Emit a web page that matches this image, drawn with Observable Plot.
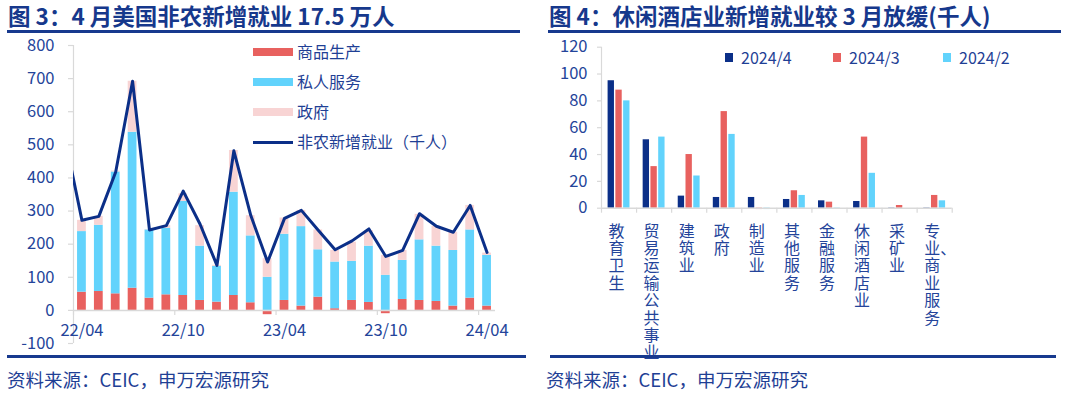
<!DOCTYPE html>
<html><head><meta charset="utf-8">
<script src="https://cdn.jsdelivr.net/npm/d3@7"></script>
<script src="https://cdn.jsdelivr.net/npm/@observablehq/plot@0.6"></script>
<style>
body{margin:0;width:1080px;height:399px;background:#fff;position:relative;overflow:hidden;font-family:"Noto Sans CJK SC","Noto Sans",sans-serif;}
.abs{position:absolute;}
.title{font-size:22.5px;font-weight:bold;color:#16388c;line-height:1;white-space:nowrap;}
.rule{height:3px;background:#17398e;}
.src{font-size:18.5px;color:#1f3f95;white-space:nowrap;line-height:1;}
.leg{font-size:16px;color:#1f3f95;white-space:nowrap;line-height:1;}
</style></head><body>
<div id="c1" class="abs" style="left:0;top:0"></div>
<div id="c2" class="abs" style="left:540px;top:0"></div>
<div class="abs title" style="left:8px;top:4px">图 3：4 月美国非农新增就业 17.5 万人</div>
<div class="abs title" style="left:549px;top:4px">图 4：休闲酒店业新增就业较 3 月放缓(千人)</div>
<div class="abs rule" style="left:7px;top:30px;width:513px"></div>
<div class="abs rule" style="left:548px;top:30px;width:513px"></div>
<div class="abs rule" style="left:7px;top:355px;width:519px"></div>
<div class="abs rule" style="left:550px;top:355px;width:506px"></div>
<div class="abs src" style="left:7px;top:370px">资料来源：CEIC，申万宏源研究</div>
<div class="abs src" style="left:546px;top:370px">资料来源：CEIC，申万宏源研究</div>
<div id="leg1"></div>
<div id="leg2"></div>
<script>
// ---------- Chart 3 data ----------
const months = ["22/04","22/05","22/06","22/07","22/08","22/09","22/10","22/11","22/12","23/01","23/02","23/03",
  "23/04","23/05","23/06","23/07","23/08","23/09","23/10","23/11","23/12","24/01","24/02","24/03","24/04"];
const goods      = [55, 57, 50, 67, 37, 47, 45, 30, 25, 45, 23, -13, 30, 13, 40, 5, 30, 24, -10, 33, 30, 27, 13, 37, 13];
const privateSvc = [183, 200, 368, 471, 206, 201, 284, 164, 108, 312, 202, 100, 200, 240, 143, 141, 118, 170, 106, 118, 183, 167, 168, 206, 153];
const government = [34, 27, 3, 154, 1, 8, 23, 62, 3, 126, 61, 56, 49, 49, 60, 35, 58, 47, 60, 30, 77, 60, 55, 74, 7];
const lineMonths = ["22/03", ...months];
const nfpValues  = [520, 272, 284, 418, 692, 243, 256, 360, 260, 136, 482, 287, 146, 278, 302, 242, 183, 210, 246, 163, 181, 292, 254, 236, 317, 175];
const xTickLabels = ["22/04","22/10","23/04","23/10","24/04"];
const yTicks1 = [-100, 0, 100, 200, 300, 400, 500, 600, 700, 800];
const seriesNames1 = ["商品生产","私人服务","政府","非农新增就业（千人）"];

// ---------- Chart 4 data ----------
const sectors = ["教育卫生","贸易运输公共事业","建筑业","政府","制造业","其他服务","金融服务","休闲酒店业","采矿业","专业、商业服务"];
const seriesNames2 = ["2024/4","2024/3","2024/2"];
const apr2024 = [95, 51, 9, 8, 8, 6.5, 5.5, 5, -0.5, -0.5];
const mar2024 = [88, 31, 40, 72, -1, 13, 4.5, 53, 2, 9.5];
const feb2024 = [80, 53, 24, 55, -1, 9.5, -0.7, 26, 0, 5.5];
const yTicks2 = [0, 20, 40, 60, 80, 100, 120];

// ---------- styles ----------
const RED = "#e8615f", CYAN = "#62d3fc", PINK = "#f8d4d4", NAVY = "#0b2f88", TXT = "#24449a", GRID = "#d9d9d9";
const FONT = '"Noto Sans CJK SC","Noto Sans",sans-serif';

// ===== Chart 3 =====
{
  const W = 535, H = 399, mL = 73, mR = 40, mT = 45, mB = 56;
  const xDom = [-0.5, months.length - 0.5], yDom = [-100, 800];
  const unitsPerPxY = (yDom[1] - yDom[0]) / (H - mT - mB);
  const unitsPerPxX = (xDom[1] - xDom[0]) / (W - mL - mR);
  const half = 0.26;
  const rects = [];
  const colors = [RED, CYAN, PINK];
  months.forEach((m, i) => {
    let pos = 0, neg = 0;
    [goods[i], privateSvc[i], government[i]].forEach((v, s) => {
      let y1, y2;
      if (v >= 0) { y1 = pos; y2 = pos + v; pos = y2; } else { y1 = neg; y2 = neg + v; neg = y2; }
      rects.push({x1: i - half, x2: i + half, y1, y2, fill: colors[s]});
    });
  });
  const linePts = lineMonths.map((m, k) => ({x: k - 1, y: nfpValues[k]}));
  const xt = xTickLabels.map(l => ({i: months.indexOf(l), l}));
  const plot = Plot.plot({
    width: W, height: H, marginLeft: mL, marginRight: mR, marginTop: mT, marginBottom: mB,
    style: {background: "transparent", fontFamily: FONT, overflow: "visible"},
    x: {domain: xDom, axis: null},
    y: {domain: yDom, axis: null},
    marks: [
      Plot.ruleX([xDom[0]], {y1: yDom[0], y2: yDom[1], stroke: GRID, strokeWidth: 1.2}),
      Plot.ruleY(yTicks1, {y: d => d, x1: xDom[0] - 5 * unitsPerPxX, x2: xDom[0], stroke: GRID, strokeWidth: 1.2}),
      Plot.text(yTicks1, {y: d => d, x: () => xDom[0], text: d => String(d), textAnchor: "end", dx: -19, fill: TXT, fontSize: 16.5}),
      Plot.rect(rects, {x1: "x1", x2: "x2", y1: "y1", y2: "y2", fill: "fill"}),
      Plot.ruleY([0], {x1: xDom[0], x2: xDom[1], stroke: GRID, strokeWidth: 1.5}),
      Plot.ruleX(xt, {x: d => d.i - 0.5, y1: 0, y2: -5 * unitsPerPxY, stroke: GRID, strokeWidth: 1.2}),
      Plot.text(xt, {x: d => d.i, y: () => 0, text: "l", dy: 20, fill: TXT, fontSize: 16.5}),
      Plot.line(linePts, {x: "x", y: "y", stroke: NAVY, strokeWidth: 3, clip: true})
    ]
  });
  document.getElementById("c1").append(plot);

  // legend
  const leg = document.getElementById("leg1");
  const rows = [52, 82, 112, 142];
  seriesNames1.forEach((name, k) => {
    const sw = document.createElement("div");
    sw.className = "abs";
    const isLine = k === 3;
    const h = isLine ? 3 : 8;
    sw.style.cssText = `left:253px;top:${rows[k] - h / 2}px;width:40px;height:${h}px;background:${[RED, CYAN, PINK, NAVY][k]}`;
    leg.append(sw);
    const t = document.createElement("div");
    t.className = "abs leg";
    t.style.cssText = `left:297px;top:${rows[k] - 9}px`;
    t.textContent = name;
    leg.append(t);
  });
}

// ===== Chart 4 =====
{
  const W = 540, H = 399, mL = 61, mR = 128.3, mT = 46.7, mB = 191.3;
  const xDom = [0, sectors.length], yDom = [0, 120];
  const unitsPerPxY = (yDom[1] - yDom[0]) / (H - mT - mB);
  const unitsPerPxX = (xDom[1] - xDom[0]) / (W - mL - mR);
  const step = 0.2213, hw = 0.0907;
  const cols = [NAVY, RED, CYAN];
  const vals = [apr2024, mar2024, feb2024];
  const bars = [];
  sectors.forEach((s, i) => {
    vals.forEach((arr, j) => {
      const c = i + 0.5 + (j - 1) * step;
      bars.push({x1: c - hw, x2: c + hw, v: arr[i], fill: cols[j]});
    });
  });
  // vertical (one character per line) category labels
  const labelRows = sectors.map((s, i) => {
    const parts = [];
    for (const ch of s) { if (ch === "、" && parts.length) parts[parts.length - 1] += ch; else parts.push(ch); }
    return {i, t: parts.join("\n")};
  });
  const bounds = d3.range(sectors.length + 1);
  const plot = Plot.plot({
    width: W, height: H, marginLeft: mL, marginRight: mR, marginTop: mT, marginBottom: mB,
    style: {background: "transparent", fontFamily: FONT, overflow: "visible"},
    x: {domain: xDom, axis: null},
    y: {domain: yDom, axis: null},
    marks: [
      Plot.ruleX([0], {y1: 0, y2: 120, stroke: GRID, strokeWidth: 1.2}),
      Plot.ruleY(yTicks2, {y: d => d, x1: -4 * unitsPerPxX, x2: 0, stroke: GRID, strokeWidth: 1.2}),
      Plot.text(yTicks2, {y: d => d, x: () => 0, text: d => String(d), textAnchor: "end", dx: -14, fill: TXT, fontSize: 16.5}),
      Plot.rect(bars, {x1: "x1", x2: "x2", y1: () => 0, y2: "v", fill: "fill"}),
      Plot.ruleY([0], {x1: 0, x2: sectors.length, stroke: GRID, strokeWidth: 1.5}),
      Plot.ruleX(bounds, {x: d => d, y1: 0, y2: -5 * unitsPerPxY, stroke: GRID, strokeWidth: 1.2}),
      Plot.text(labelRows, {x: d => d.i + 0.5, y: () => 0, text: "t", lineAnchor: "top", lineHeight: 1.0875,
        dy: 16, textAnchor: "start", dx: -10.5, fill: TXT, fontSize: 16})
    ]
  });
  document.getElementById("c2").append(plot);

  const leg = document.getElementById("leg2");
  const sx = [725, 833, 943];
  seriesNames2.forEach((name, k) => {
    const sw = document.createElement("div");
    sw.className = "abs";
    sw.style.cssText = `left:${sx[k]}px;top:53px;width:8px;height:9px;background:${cols[k]}`;
    leg.append(sw);
    const t = document.createElement("div");
    t.className = "abs leg";
    t.style.cssText = `left:${sx[k] + 16}px;top:49px`;
    t.textContent = name;
    leg.append(t);
  });
}
</script>
</body></html>
